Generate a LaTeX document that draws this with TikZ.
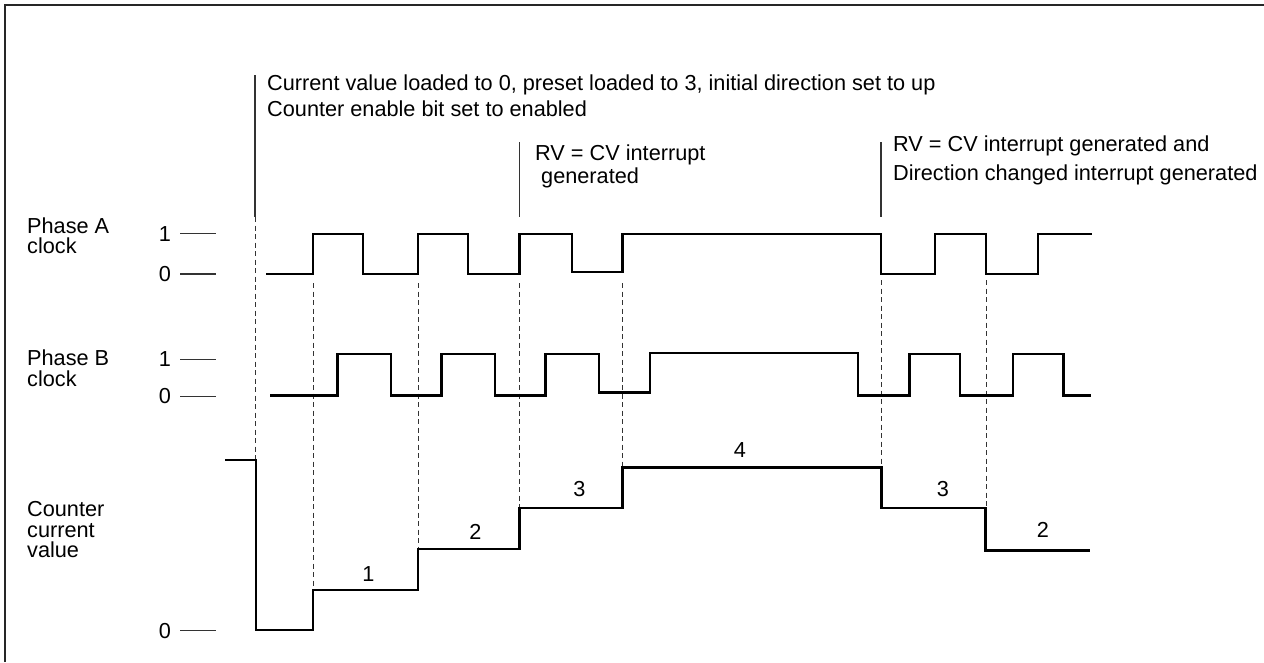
\documentclass[tikz,border=0pt]{standalone}
\usepackage{fontspec}
\setmainfont{Liberation Sans}
\begin{document}
\begin{tikzpicture}[x=1pt,y=-1pt,
  txt/.style={font=\fontsize{21.7}{25}\selectfont, inner sep=0pt, anchor=base west},
  num/.style={font=\fontsize{21.7}{25}\selectfont, inner sep=0pt, anchor=base},
  frame/.style={line width=2pt, black!85},
  wavea/.style={line width=2.5pt, line join=miter, line cap=rect},
  waveb/.style={line width=2.1pt, line join=miter, line cap=rect},
  guide/.style={line width=1pt, black!80, dash pattern=on 5pt off 3.5pt},
  marker/.style={line width=1.1pt, black!80},
  tick/.style={line width=1.1pt, black!80}]
\useasboundingbox (0,0) rectangle (1264,662);
\fill[white] (0,0) rectangle (1264,662);
% frame (top and left only)
\draw[frame] (5,662) -- (5,5) -- (1264,5);

% annotations
\node[txt] (t1) at (267,90) {Current value loaded to 0, preset loaded to 3, initial direction set to up};
\node[txt] (t2) at (267,116.5) {Counter enable bit set to enabled};
\node[txt] (t3) at (535,160) {RV = CV interrupt};
\node[txt] (t4) at (541,183.5) {generated};
\node[txt] (t5) at (893,151.5) {RV = CV interrupt generated and};
\node[txt] (t6) at (893,180) {Direction changed interrupt generated};

% row labels
\node[txt] (la1) at (27,233) {Phase A};
\node[txt] (la2) at (27,253) {clock};
\node[txt] (lb1) at (27,365.5) {Phase B};
\node[txt] (lb2) at (27,386.5) {clock};
\node[txt] (lc1) at (27,516) {Counter};
\node[txt] (lc2) at (27,537) {current};
\node[txt] (lc3) at (27,557.5) {value};

% level ticks
\node[num] (a1) at (165,241) {1};
\node[num] (a0) at (165,281.5) {0};
\node[num] (b1) at (165,366.5) {1};
\node[num] (b0) at (165,403.5) {0};
\node[num] (c0) at (165,638) {0};
\draw[tick] (180,233.5) -- (216,233.5);
\draw[tick] (180,274) -- (216,274);
\draw[tick] (180,359.5) -- (216,359.5);
\draw[tick] (180,396.5) -- (216,396.5);
\draw[tick] (180,630.5) -- (216,630.5);

% marker lines
\draw[marker] (255,75) -- (255,217);
\draw[marker] (519.5,142) -- (519.5,217);
\draw[marker] (881,142) -- (881,217);

% dashed guides
\draw[guide] (255,217) -- (255,460);
\draw[guide] (313,283) -- (313,590);
\draw[guide] (418,283) -- (418,549);
\draw[guide] (519.5,283) -- (519.5,508);
\draw[guide] (622.5,283) -- (622.5,468);
\draw[guide] (881,280) -- (881,468);
\draw[guide] (986,280) -- (986,508);

% Phase A
\draw[wavea] (267,274) -- (313,274) -- (313,234) -- (363,234) -- (363,274) -- (418,274) -- (418,234) -- (468,234) -- (468,274) -- (519.5,274) -- (519.5,234) -- (572,234) -- (572,272) -- (622.5,272) -- (622.5,234) -- (881,234) -- (881,274) -- (935,274) -- (935,234) -- (986,234) -- (986,274) -- (1038,274) -- (1038,234) -- (1091,234);

% Phase B
\draw[waveb] (271,395.5) -- (337.5,395.5) -- (337.5,354) -- (391,354) -- (391,395.5) -- (441.5,395.5) -- (441.5,354) -- (495,354) -- (495,395.5) -- (545.5,395.5) -- (545.5,354) -- (599,354) -- (599,392.5) -- (650,392.5) -- (650,353) -- (858,353) -- (858,395.5) -- (909.5,395.5) -- (909.5,354) -- (960,354) -- (960,395.5) -- (1013,395.5) -- (1013,354) -- (1063.5,354) -- (1063.5,395.5) -- (1090,395.5);

% Counter current value
\draw[wavea] (226.5,460) -- (256,460) -- (256,630) -- (313,630) -- (313,590) -- (418,590) -- (418,549) -- (519.5,549) -- (519.5,508) -- (622.5,508) -- (622.5,467.5) -- (881.5,467.5) -- (881.5,508) -- (985.5,508) -- (985.5,550.5) -- (1089,550.5);

% counter values
\node[num] (v1) at (368.5,581.5) {1};
\node[num] (v2) at (475.5,539) {2};
\node[num] (v3) at (579.5,496.5) {3};
\node[num] (v4) at (740,457.5) {4};
\node[num] (v5) at (943,496.5) {3};
\node[num] (v6) at (1043,537) {2};
\end{tikzpicture}
\end{document}
